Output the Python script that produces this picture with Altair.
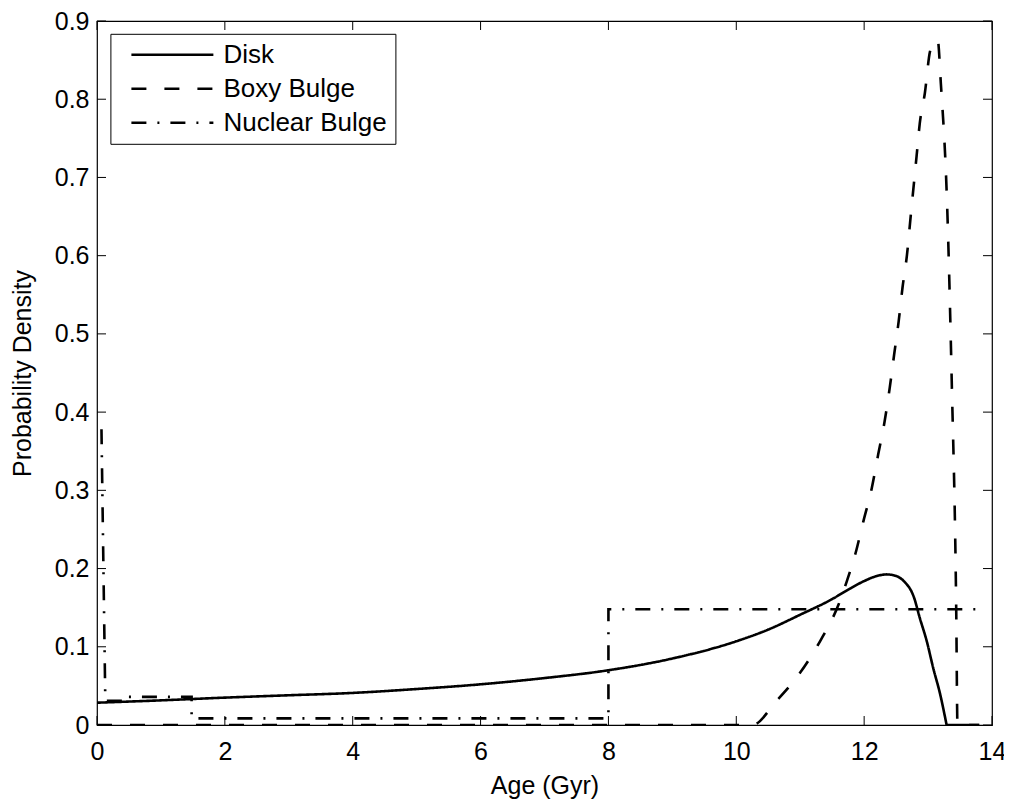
import altair as alt
import pandas as pd

series_names = ["Disk", "Boxy Bulge", "Nuclear Bulge"]

disk_x = [0, 1, 2, 3, 4, 5, 6, 7, 8, 9, 10, 10.5, 11, 11.5, 11.75, 12, 12.2, 12.35,
          12.5, 12.62, 12.78, 12.87, 12.98, 13.08, 13.19, 13.29, 13.8]
disk_y = [0.0285, 0.0315, 0.035, 0.038, 0.041, 0.046, 0.052, 0.060, 0.070, 0.085,
          0.107, 0.122, 0.141, 0.161, 0.173, 0.184, 0.1905, 0.1925, 0.1905, 0.184,
          0.163, 0.137, 0.107, 0.073, 0.039, 0.0, 0.0]

boxy_x = [0, 10.25, 10.63, 11.0, 11.31, 11.6, 11.73, 11.86, 11.99, 12.12, 12.22,
          12.32, 12.40, 12.47, 12.54, 12.60, 12.67, 12.73, 12.82, 12.87, 12.95,
          13.03, 13.08, 13.15, 13.20, 13.30, 13.37, 13.44, 13.46, 13.8]
boxy_y = [0, 0, 0.031, 0.067, 0.107, 0.154, 0.184, 0.218, 0.261, 0.303, 0.346,
          0.388, 0.431, 0.474, 0.516, 0.559, 0.601, 0.652, 0.727, 0.769, 0.808,
          0.861, 0.870, 0.876, 0.82, 0.66, 0.44, 0.15, 0, 0]

nuc_x = [0.07, 0.13, 0.49, 0.49, 1.48, 1.48, 8.0, 8.0, 13.8]
nuc_y = [0.378, 0.031, 0.031, 0.036, 0.036, 0.0085, 0.0085, 0.148, 0.148]

x_ticks = [0, 2, 4, 6, 8, 10, 12, 14]
y_ticks = [0, 0.1, 0.2, 0.3, 0.4, 0.5, 0.6, 0.7, 0.8, 0.9]

rows = []
# Disk: smooth part up to where it reaches zero, then a straight zero tail
n_disk_curve = len(disk_x) - 1
for i, (a, d) in enumerate(zip(disk_x, disk_y)):
    if i < n_disk_curve:
        rows.append({"series": "Disk", "age": a, "density": d, "order": i, "part": "curve"})
    if i >= n_disk_curve - 1:
        rows.append({"series": "Disk", "age": a, "density": d, "order": i, "part": "line"})
for i, (a, d) in enumerate(zip(boxy_x, boxy_y)):
    rows.append({"series": "Boxy Bulge", "age": a, "density": d, "order": i, "part": "curve"})
for i, (a, d) in enumerate(zip(nuc_x, nuc_y)):
    rows.append({"series": "Nuclear Bulge", "age": a, "density": d, "order": i, "part": "line"})
df = pd.DataFrame(rows)

FONT = "Liberation Sans"
W, H = 895, 704
LW = 2.6

xscale = alt.Scale(domain=[0, 14], nice=False, zero=False)
yscale = alt.Scale(domain=[0, 0.9], nice=False)

xaxis = alt.Axis(values=x_ticks, title="Age (Gyr)", ticks=False, tickSize=0,
                 domain=False, grid=False, labelFontSize=25, labelFont=FONT,
                 labelColor="black", labelPadding=14, labelFlush=False,
                 labelOverlap=False, titleFont=FONT,
                 titleFontSize=25, titleFontWeight="normal", titleColor="black",
                 titlePadding=9)
yaxis = alt.Axis(values=y_ticks, title="Probability Density", ticks=False,
                 tickSize=0, domain=False, grid=False, labelFontSize=25,
                 labelFont=FONT, labelColor="black", labelPadding=8,
                 labelFlush=False, labelOverlap=False,
                 labelExpr="format(datum.value, '~g')", titleFont=FONT,
                 titleFontSize=25, titleFontWeight="normal", titleColor="black",
                 titlePadding=19)

X = alt.X("age:Q", scale=xscale, axis=xaxis)
Y = alt.Y("density:Q", scale=yscale, axis=yaxis)

dash = alt.StrokeDash(
    "series:N",
    scale=alt.Scale(domain=series_names, range=[[1, 0], [15, 18], [15, 11, 2, 11]]),
    legend=alt.Legend(title=None, orient="none", legendX=13.4, legendY=12.8,
                      symbolType="M0,0H8", symbolSize=420, symbolStrokeWidth=LW,
                      symbolStrokeColor="black", labelFont=FONT, labelFontSize=26,
                      labelColor="black", labelOffset=79, labelLimit=400,
                      padding=8, rowPadding=8, strokeColor="black",
                      fillColor="white", cornerRadius=0),
)

base = alt.Chart(df).encode(x=X, y=Y, strokeDash=dash, order="order:Q")

smooth = base.transform_filter(alt.datum.part == "curve").mark_line(
    strokeWidth=LW, color="black", clip=True, interpolate="monotone")
straight = base.transform_filter(alt.datum.part == "line").mark_line(
    strokeWidth=LW, color="black", clip=True)

xt = pd.DataFrame({"age": x_ticks})
yt = pd.DataFrame({"density": y_ticks})

bottom_ticks = alt.Chart(xt).mark_rule(color="black", strokeWidth=1).encode(
    x=X, y=alt.value(H), y2=alt.value(H - 9))
top_ticks = alt.Chart(xt).mark_rule(color="black", strokeWidth=1).encode(
    x=X, y=alt.value(0), y2=alt.value(9))
left_ticks = alt.Chart(yt).mark_rule(color="black", strokeWidth=1).encode(
    y=Y, x=alt.value(0), x2=alt.value(9))
right_ticks = alt.Chart(yt).mark_rule(color="black", strokeWidth=1).encode(
    y=Y, x=alt.value(W), x2=alt.value(W - 9))

chart = alt.layer(smooth, straight, bottom_ticks, top_ticks, left_ticks, right_ticks).properties(
    width=W, height=H,
    autosize=alt.AutoSizeParams(type="none"),
    padding={"left": 89, "top": 13, "right": 12, "bottom": 74},
    background="white",
).configure_view(stroke="black", strokeWidth=1.2)

chart.save("out.html", embed_options={"renderer": "svg", "actions": False})
